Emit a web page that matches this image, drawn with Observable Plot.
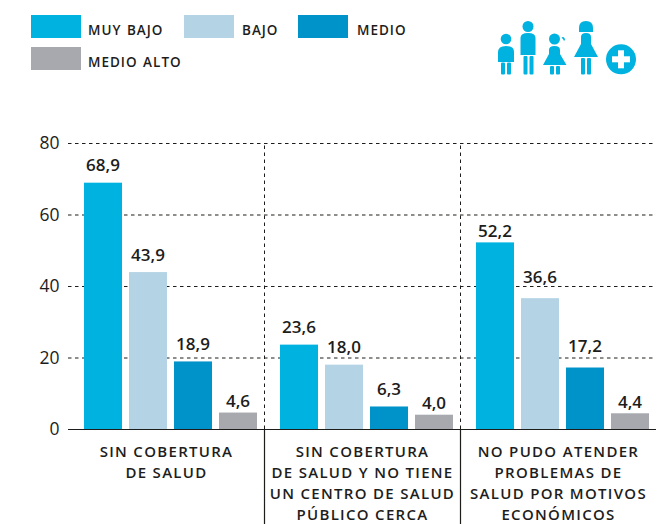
<!DOCTYPE html>
<html><head><meta charset="utf-8">
<script src="https://cdn.jsdelivr.net/npm/d3@7"></script>
<script src="https://cdn.jsdelivr.net/npm/@observablehq/plot@0.6"></script>
<style>
html,body{margin:0;padding:0;background:#fff}
#root{position:relative;width:672px;height:524px;overflow:hidden;font-family:"Open Sans",sans-serif;color:#1d1d1b}
#root svg{position:absolute;left:0;top:0}
.sw{position:absolute;width:50px;height:23px}
.lb{position:absolute;font-size:13.5px;font-weight:600;letter-spacing:1px;word-spacing:1px;line-height:16px;white-space:nowrap}
.grp{letter-spacing:1.3px}
</style></head><body><div id="root"></div>
<script>
const groups = ["SIN COBERTURA\nDE SALUD","SIN COBERTURA\nDE SALUD Y NO TIENE\nUN CENTRO DE SALUD\nPÚBLICO CERCA","NO PUDO ATENDER\nPROBLEMAS DE\nSALUD POR MOTIVOS\nECONÓMICOS"];
const levels = ["MUY BAJO","BAJO","MEDIO","MEDIO ALTO"];
const colors = ["#00b2e0","#b4d4e5","#0093c9","#a7a9ae"];
const muyBajo = [68.9,23.6,52.2];
const bajo = [43.9,18.0,36.6];
const medio = [18.9,6.3,17.2];
const medioAlto = [4.6,4.0,4.4];
const closeLabels = [4.6,4.0,4.4,52.2];
const raisedLabels = [36.6,17.2];
const yTicks = [0,20,40,60,80];
const series = [muyBajo,bajo,medio,medioAlto];
const rows = series.flatMap((s,i)=>s.map((v,j)=>({group:groups[j],level:levels[i],value:v})));
const ink = "#1d1d1b";
const font = '"Open Sans",sans-serif';
const valueText = (filter,dy)=>Plot.text(rows,{filter,fx:"group",x:"level",y:"value",text:d=>d.value.toFixed(1).replace(".",","),lineAnchor:"bottom",dy,dx:-0.5,fontSize:17,fontWeight:600,fill:ink});

const chart = Plot.plot({
  width:672,height:524,marginLeft:68,marginRight:16,marginTop:143,marginBottom:95,
  style:{fontFamily:font,background:"transparent",overflow:"visible"},
  fx:{domain:groups,padding:0,axis:null,label:null},
  x:{domain:levels,range:[84,257],paddingInner:7/45,paddingOuter:0,axis:null,label:null},
  y:{domain:[0,80],axis:null,label:null},
  color:{domain:levels,range:colors},
  marks:[
    Plot.gridY(yTicks.slice(1),{stroke:ink,strokeOpacity:1,strokeWidth:1,strokeDasharray:"3.5,3.5"}),
    Plot.ruleX(groups.slice(1),{fx:d=>d,x:null,y1:0,y2:80,dx:-98,stroke:ink,strokeWidth:1,strokeDasharray:"3.5,3.5"}),
    Plot.barY(rows,{fx:"group",x:"level",y:"value",fill:"level"}),
    Plot.ruleX(groups.slice(1),{fx:d=>d,x:null,y1:0,y2:-27,dx:-98,stroke:ink,strokeWidth:1.2}),
    Plot.ruleY([0],{stroke:ink,strokeWidth:1.2}),
    Plot.axisY({ticks:yTicks,tickSize:0,tickPadding:8,fontSize:17.5,fill:ink,label:null,anchor:"left",dx:-1}),
    valueText(d=>!closeLabels.includes(d.value)&&!raisedLabels.includes(d.value),-12),
    valueText(d=>closeLabels.includes(d.value),-6),
    valueText(d=>raisedLabels.includes(d.value),-16),
    Plot.text(groups,{fx:d=>d,y:0,text:d=>d,frameAnchor:"middle",lineAnchor:"top",dy:12,lineHeight:1.41,fontSize:15,fontWeight:600,fill:ink,className:"grp"})
  ]
});
const root=document.getElementById("root");
root.appendChild(chart);

const legendPos=[[31,15,88,26],[184,15,242,26],[298,15,357,26],[31,47,88,58]];
levels.forEach((l,i)=>{
  const [sx,sy,tx,ty]=legendPos[i];
  const s=document.createElement("div");s.className="sw";s.style.cssText=`left:${sx}px;top:${sy}px;background:${colors[i]}`;root.appendChild(s);
  const t=document.createElement("div");t.className="lb";t.style.cssText=`left:${tx}px;top:${ty-4}px`;t.textContent=l;root.appendChild(t);
});

const icon=document.createElement("div");
icon.innerHTML=`<svg width="672" height="100" viewBox="0 0 672 100" style="pointer-events:none"><g fill="#00b2e0">
<circle cx="506" cy="39" r="5.3"/><path d="M498 62V52q0-6 8-6t8 6v10z"/><rect x="501" y="62.5" width="4" height="12" rx="1"/><rect x="507" y="62.5" width="4" height="12" rx="1"/>
<circle cx="528" cy="26.5" r="5.5"/><path d="M520.5 55V38q0-5 7.5-5t7.5 5v17z"/><rect x="523.5" y="56" width="4" height="18.5" rx="1"/><rect x="529.5" y="56" width="4" height="18.5" rx="1"/>
<circle cx="554.5" cy="39" r="5.5"/><path d="M561.5 37.5a2 2 0 1 1 2.5 3.5l-.7-1.6z"/><path d="M543 65L549 54V50q0-4 5.5-4t5.5 4V54L566.500 65z"/><rect x="550" y="66" width="4" height="8.500" rx="1"/><rect x="556" y="66" width="4" height="8.500" rx="1"/>
<path d="M579 32V28q0-7 7-7t7 7V32z"/><path d="M574 57L581 44V37q0-4 5-4t5 4V44L598 57z"/><rect x="581" y="58" width="4" height="16.500" rx="1"/><rect x="587" y="58" width="4" height="16.500" rx="1"/>
<circle cx="621" cy="59.300" r="15"/></g>
<g fill="#fff"><rect x="618" y="50.300" width="6" height="18"/><rect x="612" y="56.300" width="18" height="6"/></g></svg>`;
root.appendChild(icon);
</script></body></html>
